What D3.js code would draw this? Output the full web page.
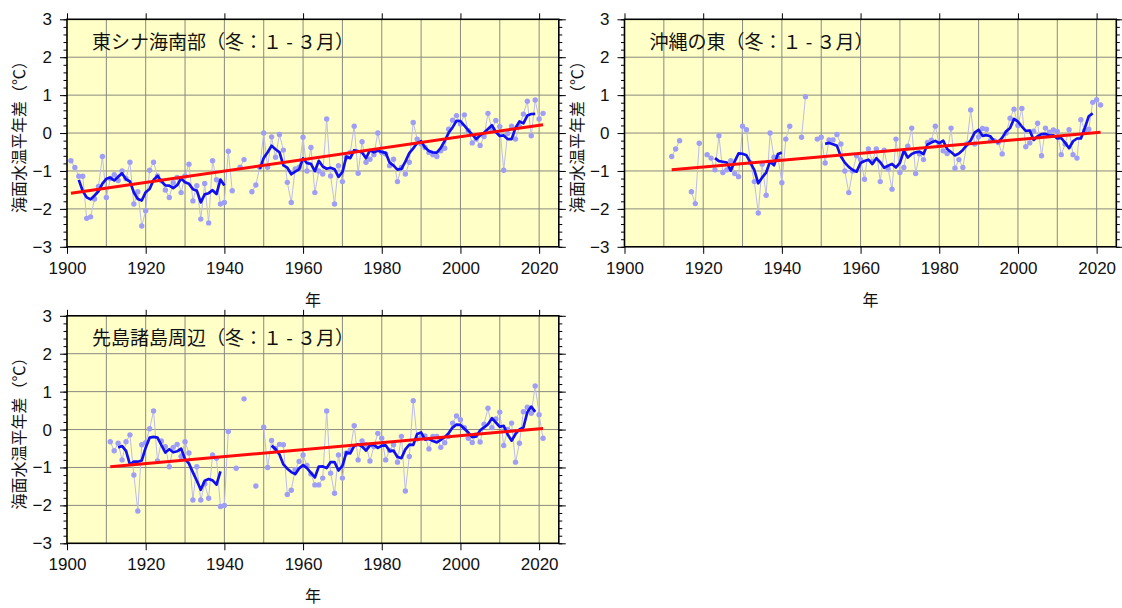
<!DOCTYPE html>
<html>
<head>
<meta charset="utf-8">
<script src="https://cdn.jsdelivr.net/npm/d3@7"></script>
<style>
  body { margin: 0; background: #ffffff; }
  svg { display: block; }
</style>
</head>
<body>
<svg id="chart" width="1122" height="608"></svg>
<script>
// ---- Data: winter (Jan–Mar) sea surface temperature anomalies (°C) ----
const xTickYears = [1900, 1920, 1940, 1960, 1980, 2000, 2020];
const yTickValues = [-3, -2, -1, 0, 1, 2, 3];
const panelTitles = ["東シナ海南部（冬：１ - ３月）", "沖縄の東（冬：１ - ３月）", "先島諸島周辺（冬：１ - ３月）"];
const yAxisTitle = "海面水温平年差（℃）";
const xAxisTitle = "年";

// 東シナ海南部, yearly values from 1901 (null = no data)
const southEcsStart = 1901;
const southEcsValues = [
  -0.73, -0.91, -1.14, -1.14, -2.25, -2.21, -1.74, -1.41, -0.62, -1.70, // 1901-1910
  -1.20, -1.10, -1.25, -1.00, -1.20, -0.77, -1.87, -1.55, -2.45, -2.05, // 1911-1920
  -0.98, -0.77, -1.13, -1.26, -1.50, -1.70, -1.31, -1.17, -1.57, -1.13, // 1921-1930
  -0.82, -1.79, -1.39, -2.27, -1.33, -2.37, -0.73, -1.23, -1.87, -1.83, // 1931-1940
  -0.48, -1.52, null, -0.90, -0.70, null, -1.55, -1.37, -0.90, 0.00,    // 1941-1950
  -0.90, -0.10, -0.64, -0.04, -0.45, -1.30, -1.83, -0.95, -0.90, -0.11, // 1951-1960
  -1.00, -0.38, -1.57, -1.00, -1.08, 0.37, -1.13, -1.87, -0.86, -1.28,  // 1961-1970
  -0.64, -0.51, 0.18, -1.06, -0.23, -0.77, -0.69, -0.57, 0.00, -0.51,   // 1971-1980
  -0.55, -0.86, -0.69, -1.28, -0.91, -1.08, -0.77, 0.28, -0.16, -0.29,  // 1981-1990
  -0.38, -0.51, -0.57, -0.62, -0.47, -0.40, 0.10, 0.34, 0.46, 0.24,     // 1991-2000
  0.48, 0.06, -0.26, -0.16, -0.33, -0.09, 0.52, 0.10, 0.33, 0.17,       // 2001-2010
  -0.98, -0.01, 0.18, -0.16, 0.17, 0.50, 0.84, -0.07, 0.87, 0.37,       // 2011-2020
  0.52                                                                  // 2021
];

// 沖縄の東, yearly values from 1912
const eastOkinawaStart = 1912;
const eastOkinawaValues = [
  -0.62, -0.42, -0.20, null, null, -1.55, -1.86, -0.27, null,           // 1912-1920
  -0.57, -0.66, -0.97, -0.07, -1.04, -0.97, -0.73, -1.07, -1.15, 0.18,  // 1921-1930
  0.09, -0.78, -1.28, -2.11, -0.82, -1.64, 0.00, -0.64, -0.65, -1.31,   // 1931-1940
  -0.16, 0.18, null, null, -0.11, 0.96, null, null, -0.16, -0.11,       // 1941-1950
  -0.79, -0.18, -0.18, -0.04, -0.29, -1.00, -1.57, -1.00, -0.60, -0.70, // 1951-1960
  -1.22, -0.42, -0.75, -0.42, -1.28, -0.45, -0.95, -1.48, -0.16, -1.04, // 1961-1970
  -0.91, -0.35, 0.13, -1.07, -0.55, -0.70, -0.25, -0.19, 0.18, -0.30,   // 1971-1980
  -0.47, -0.54, 0.13, -0.93, -0.70, -0.91, -0.29, 0.61, -0.29, -0.10,   // 1981-1990
  0.12, 0.10, -0.20, -0.20, -0.25, -0.55, 0.00, 0.39, 0.63, 0.20,       // 1991-2000
  0.65, -0.36, -0.26, 0.05, 0.26, -0.60, 0.13, 0.02, 0.08, 0.04,        // 2001-2010
  -0.57, -0.29, 0.09, -0.57, -0.66, 0.35, 0.07, 0.10, 0.81, 0.88,       // 2011-2020
  0.74                                                                  // 2021
];

// 先島諸島周辺, yearly values from 1911
const sakishimaStart = 1911;
const sakishimaValues = [
  -0.32, -0.56, -0.36, -0.80, -0.32, -0.14, -1.20, -2.15, -0.40, -0.35, // 1911-1920
  0.02, 0.49, -0.83, -0.30, -0.45, -0.98, -0.47, -0.39, -0.71, -0.32,   // 1921-1930
  -0.62, -1.86, -0.98, -1.86, -1.43, -1.81, -0.67, -0.76, -2.03, -2.00, // 1931-1940
  -0.05, null, -1.02, null, 0.81, null, null, -1.49, null, 0.06,        // 1941-1950
  -1.00, -0.29, -0.50, -0.39, -0.40, -1.71, -1.60, -1.06, -0.84, -0.67, // 1951-1960
  -0.95, -1.17, -1.46, -1.46, -1.28, 0.49, -1.15, -1.68, -0.67, -1.28,  // 1961-1970
  -0.62, -0.54, 0.10, -0.80, -0.30, -0.40, -0.83, -0.45, -0.10, -0.23,  // 1971-1980
  -0.80, -0.55, -0.40, -0.86, -0.18, -1.62, -0.71, 0.76, -0.25, -0.21,  // 1981-1990
  -0.17, -0.51, -0.18, -0.18, -0.47, -0.35, -0.18, 0.17, 0.36, 0.26,    // 1991-2000
  0.05, -0.23, -0.34, -0.14, -0.33, 0.14, 0.56, 0.05, 0.28, 0.46,       // 2001-2010
  -0.42, 0.00, 0.17, -0.86, -0.36, 0.47, 0.59, 0.43, 1.15, 0.39,        // 2011-2020
  -0.23                                                                 // 2021
];

// Long-term linear trend lines: [first year, last year] and their values
const trendYears = [[1901, 2021], [1912, 2021], [1911, 2021]];
const trendValues = [[-1.59, 0.22], [-0.97, 0.02], [-0.98, 0.03]];

// ---- Layout ----
const plotW = 491.8, plotH = 227.5;
const panels = [
  { title: panelTitles[0], start: southEcsStart, values: southEcsValues, trendX: trendYears[0], trendY: trendValues[0], left: 67, top: 19.3 },
  { title: panelTitles[1], start: eastOkinawaStart, values: eastOkinawaValues, trendX: trendYears[1], trendY: trendValues[1], left: 624.5, top: 19.3 },
  { title: panelTitles[2], start: sakishimaStart, values: sakishimaValues, trendX: trendYears[2], trendY: trendValues[2], left: 67, top: 315.8 }
];

const latinFont = "'Liberation Sans', Arial, Helvetica, sans-serif";
const cjkFont = "'Noto Sans CJK JP', 'Noto Sans', sans-serif";

const svg = d3.select("#chart");

// centred 5-year running mean, only where all five years are present
function runningMean(series) {
  return series.map((d, i) => {
    const win = series.slice(i - 2, i + 3);
    if (i < 2 || win.length < 5 || win.some(w => w.v == null)) return { year: d.year, v: null };
    return { year: d.year, v: d3.mean(win, w => w.v) };
  });
}

panels.forEach(p => {
  const x = d3.scaleLinear().domain([1900, 2025]).range([0, plotW]);
  const y = d3.scaleLinear().domain([-3, 3]).range([plotH, 0]);
  const g = svg.append("g").attr("transform", `translate(${p.left},${p.top})`);

  const series = p.values.map((v, i) => ({ year: p.start + i, v: v }));

  // background
  g.append("rect").attr("width", plotW).attr("height", plotH).attr("fill", "#ffffc8");

  // grid
  const grid = g.append("g").attr("stroke", "#8a8a80").attr("stroke-width", 1);
  grid.selectAll("line.vx").data(d3.range(1910, 2025, 10)).join("line")
    .attr("x1", d => x(d)).attr("x2", d => x(d)).attr("y1", 0).attr("y2", plotH);
  grid.selectAll("line.hy").data([-2, -1, 0, 1, 2]).join("line")
    .attr("x1", 0).attr("x2", plotW).attr("y1", d => y(d)).attr("y2", d => y(d));

  // yearly values: thin connecting line + dots
  const annualLine = d3.line().defined(d => d.v != null).x(d => x(d.year)).y(d => y(d.v));
  g.append("path").datum(series).attr("d", annualLine)
    .attr("fill", "none").attr("stroke", "#bcbcec").attr("stroke-width", 1);
  g.append("g").selectAll("circle").data(series.filter(d => d.v != null)).join("circle")
    .attr("cx", d => x(d.year)).attr("cy", d => y(d.v)).attr("r", 2.7)
    .attr("fill", "#9e9ef6");

  // 5-year running mean
  g.append("path").datum(runningMean(series)).attr("d", annualLine)
    .attr("fill", "none").attr("stroke", "#0f0ff2").attr("stroke-width", 2.7)
    .attr("stroke-linejoin", "round");

  // linear trend
  g.append("line")
    .attr("x1", x(p.trendX[0])).attr("y1", y(p.trendY[0]))
    .attr("x2", x(p.trendX[1])).attr("y2", y(p.trendY[1]))
    .attr("stroke", "#ff0a0a").attr("stroke-width", 3);

  // axes
  const fmt = d3.format("");
  const minor = d3.range(-3, 3.001, 0.2).map(v => +v.toFixed(1));
  const styleAxis = a => {
    a.select(".domain").remove();
    a.selectAll("line").attr("stroke", "#000").attr("stroke-width", 1);
    a.selectAll("text").attr("font-family", latinFont).attr("font-size", 17).attr("fill", "#111");
  };
  g.append("g").call(d3.axisLeft(y).tickValues(minor).tickSize(3.5).tickFormat("")).call(styleAxis);
  g.append("g").call(d3.axisLeft(y).tickValues(yTickValues).tickSize(7).tickPadding(8).tickFormat(fmt)).call(styleAxis);
  g.append("g").attr("transform", `translate(${plotW},0)`)
    .call(d3.axisRight(y).tickValues(minor).tickSize(3.5).tickFormat("")).call(styleAxis);
  g.append("g").attr("transform", `translate(${plotW},0)`)
    .call(d3.axisRight(y).tickValues(yTickValues).tickSize(7).tickFormat("")).call(styleAxis);
  g.append("g").attr("transform", `translate(0,${plotH})`)
    .call(d3.axisBottom(x).tickValues(xTickYears).tickSize(7).tickPadding(8).tickFormat(fmt)).call(styleAxis);
  g.append("g").call(d3.axisTop(x).tickValues(xTickYears).tickSize(6).tickFormat("")).call(styleAxis);

  // frame
  g.append("rect").attr("width", plotW).attr("height", plotH)
    .attr("fill", "none").attr("stroke", "#000").attr("stroke-width", 1.6);

  // titles
  g.append("text").attr("x", 25).attr("y", 21).attr("dominant-baseline", "central")
    .attr("font-family", cjkFont).attr("font-size", 19).attr("fill", "#111").text(p.title);
  g.append("text").attr("transform", `translate(${-49},${plotH / 2}) rotate(-90)`)
    .attr("text-anchor", "middle").attr("dominant-baseline", "central")
    .attr("font-family", cjkFont).attr("font-size", 16).attr("fill", "#111").text(yAxisTitle);
  g.append("text").attr("x", plotW / 2).attr("y", plotH + 52).attr("text-anchor", "middle")
    .attr("dominant-baseline", "central")
    .attr("font-family", cjkFont).attr("font-size", 16).attr("fill", "#111").text(xAxisTitle);
});
</script>
</body>
</html>
